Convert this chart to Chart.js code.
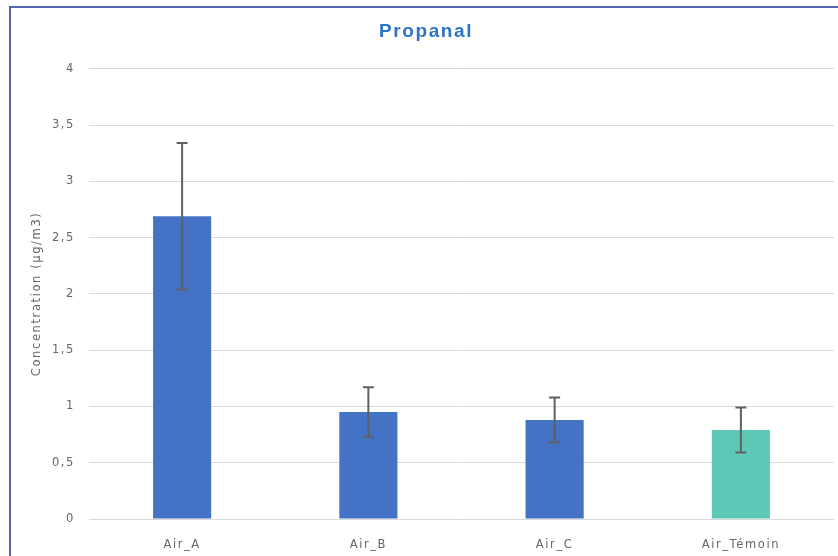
<!DOCTYPE html>
<html>
<head>
<meta charset="utf-8">
<script src="https://cdn.jsdelivr.net/npm/chart.js@4"></script>
<style>
  html, body { margin: 0; padding: 0; background: #ffffff; }
  #frame {
    position: absolute; left: 9px; top: 6px; width: 900px; height: 600px;
    border-left: 2px solid #5862B2; border-top: 2px solid #5862B2;
    box-sizing: border-box;
  }
  #wrap { position: absolute; left: 0; top: 0; width: 838px; height: 556px; }
  canvas { position: absolute; left: 0; top: 0; }
</style>
</head>
<body>
<div id="frame"></div>
<div id="wrap"><canvas id="chart" width="838" height="556"></canvas></div>
<script>
// Propanal concentrations per sampling point, with standard deviations
const categories = ['Air_A', 'Air_B', 'Air_C', 'Air_Témoin'];
const concentrations = [2.69, 0.95, 0.88, 0.79];
const deviations = [0.65, 0.22, 0.20, 0.20];
const yTickLabels = ['0', '0,5', '1', '1,5', '2', '2,5', '3', '3,5', '4'];

const barColors = ['#4472C4', '#4472C4', '#4472C4', '#5EC7B5'];
const textFont = "'DejaVu Sans', Verdana, sans-serif";
const titleFont = "'Liberation Sans', Arial, sans-serif";
const leftInset = 18;

// Slightly spaced lettering for canvas text
const spacingPlugin = {
  id: 'letterSpacing',
  beforeUpdate(chart) { chart.ctx.letterSpacing = '1.6px'; },
  beforeDraw(chart) { chart.ctx.letterSpacing = '1.6px'; }
};

// Error bars (value ± deviation) drawn over each bar
const errorBarPlugin = {
  id: 'errorBars',
  afterDatasetsDraw(chart) {
    const ctx = chart.ctx;
    const yScale = chart.scales.y;
    const meta = chart.getDatasetMeta(0);
    ctx.save();
    ctx.strokeStyle = '#606060';
    ctx.lineWidth = 2;
    meta.data.forEach((bar, i) => {
      const x = bar.x;
      const yHi = yScale.getPixelForValue(concentrations[i] + deviations[i]);
      const yLo = yScale.getPixelForValue(concentrations[i] - deviations[i]);
      const cap = 5.5;
      ctx.beginPath();
      ctx.moveTo(x, yHi); ctx.lineTo(x, yLo);
      ctx.moveTo(x - cap, yHi); ctx.lineTo(x + cap, yHi);
      ctx.moveTo(x - cap, yLo); ctx.lineTo(x + cap, yLo);
      ctx.stroke();
    });
    ctx.restore();
  }
};

new Chart(document.getElementById('chart'), {
  type: 'bar',
  data: {
    labels: categories,
    datasets: [{
      data: concentrations,
      backgroundColor: barColors,
      borderWidth: 0,
      barPercentage: 0.312,
      categoryPercentage: 1.0
    }]
  },
  options: {
    responsive: false,
    animation: false,
    layout: { padding: { left: leftInset, right: 4, top: 0, bottom: 0 } },
    plugins: {
      legend: { display: false },
      tooltip: { enabled: false },
      title: {
        display: true,
        text: 'Propanal',
        color: '#2E75C6',
        font: { family: titleFont, size: 19, weight: 'bold', lineHeight: 1.2 },
        padding: { top: 20, bottom: 26 }
      }
    },
    scales: {
      x: {
        grid: { display: false },
        border: { display: false },
        ticks: {
          color: '#666666',
          font: { family: textFont, size: 11.5 },
          padding: 11,
          maxRotation: 0
        },
        afterFit(scale) { scale.height = 37; }
      },
      y: {
        min: 0,
        max: 4,
        grid: { color: '#D9D9D9', lineWidth: 1, drawTicks: false },
        border: { display: false },
        ticks: {
          stepSize: 0.5,
          color: '#666666',
          font: { family: textFont, size: 11.5 },
          padding: 14,
          callback: (v, i) => yTickLabels[i]
        },
        title: {
          display: true,
          text: 'Concentration (µg/m3)',
          color: '#666666',
          font: { family: textFont, size: 11.5 },
          padding: { top: 30 - leftInset, bottom: 0 }
        },
        afterFit(scale) { scale.width = 89 - leftInset; }
      }
    }
  },
  plugins: [spacingPlugin, errorBarPlugin]
});
</script>
</body>
</html>
